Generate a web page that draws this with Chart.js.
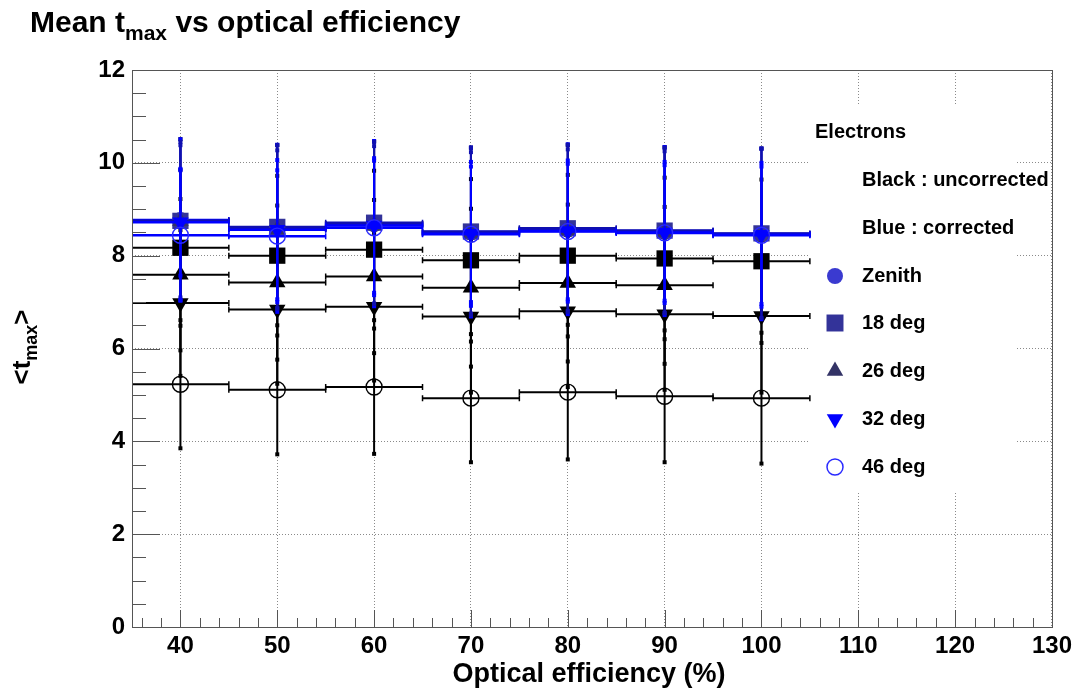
<!DOCTYPE html>
<html>
<head>
<meta charset="utf-8">
<script src="https://cdn.jsdelivr.net/npm/chart.js@4/dist/chart.umd.min.js"></script>
<style>
  html, body { margin: 0; padding: 0; background: #fff; }
  #wrap { position: relative; width: 1077px; height: 692px; }
</style>
</head>
<body>
<div id="wrap"><canvas id="c" width="1077" height="692"></canvas></div>
<script>
// ---------------- data ----------------
const efficiency = [40, 50, 60, 70, 80, 90, 100];
const binHalfWidth = 5;
const xTickLabels = [40, 50, 60, 70, 80, 90, 100, 110, 120, 130];
const yTickLabels = [0, 2, 4, 6, 8, 10, 12];

// Black : uncorrected
const zenithUncorr    = [8.76, 8.58, 8.68, 8.50, 8.56, 8.52, 8.46];
const zenithUncorrErr = [1.75, 1.80, 1.78, 1.83, 1.82, 1.82, 1.85];
const deg18Uncorr     = [8.17, 8.00, 8.13, 7.90, 8.00, 7.94, 7.88];
const deg18UncorrErr  = [1.68, 1.72, 1.70, 1.75, 1.74, 1.74, 1.76];
const deg26Uncorr     = [7.59, 7.42, 7.55, 7.31, 7.41, 7.36, null];
const deg26UncorrErr  = [1.63, 1.66, 1.65, 1.70, 1.69, 1.69, null];
const deg32Uncorr     = [6.98, 6.84, 6.90, 6.69, 6.80, 6.74, 6.70];
const deg32UncorrErr  = [1.57, 1.60, 1.59, 1.64, 1.63, 1.63, 1.65];
const deg46Uncorr     = [5.23, 5.11, 5.17, 4.93, 5.06, 4.97, 4.93];
const deg46UncorrErr  = [1.38, 1.39, 1.44, 1.38, 1.45, 1.42, 1.41];

// Blue : corrected
const zenithCorr    = [8.77, 8.59, 8.69, 8.51, 8.57, 8.53, 8.47];
const zenithCorrErr = [1.74, 1.80, 1.78, 1.82, 1.83, 1.81, 1.84];
const deg18Corr     = [8.75, 8.62, 8.71, 8.52, 8.59, 8.54, 8.48];
const deg18CorrErr  = [1.70, 1.76, 1.74, 1.80, 1.80, 1.78, 1.82];
const deg26Corr     = [8.74, 8.57, 8.66, 8.49, 8.55, 8.51, null];
const deg26CorrErr  = [1.64, 1.70, 1.70, 1.74, 1.74, 1.74, null];
const deg32Corr     = [8.72, 8.56, 8.65, 8.47, 8.53, 8.50, 8.45];
const deg32CorrErr  = [1.15, 1.50, 1.45, 1.55, 1.52, 1.52, 1.55];
const deg46Corr     = [8.44, 8.42, 8.60, 8.46, 8.52, 8.49, 8.44];
const deg46CorrErr  = [1.40, 1.42, 1.45, 1.46, 1.46, 1.46, 1.48];

const legendHeader = 'Electrons';
const legendNotes = ['Black : uncorrected', 'Blue : corrected'];
const seriesLabels = ['Zenith', '18 deg', '26 deg', '32 deg', '46 deg'];

// ---------------- styles ----------------
const FONT = "'Liberation Sans', Arial, Helvetica, sans-serif";
const markerStyles = [
  { pointStyle: 'circle',   rotation: 0,   radius: 8,    open: false },
  { pointStyle: 'rect',     rotation: 0,   radius: 11.5, open: false },
  { pointStyle: 'triangle', rotation: 0,   radius: 9.5,  open: false },
  { pointStyle: 'triangle', rotation: 180, radius: 9.5,  open: false },
  { pointStyle: 'circle',   rotation: 0,   radius: 8,    open: true }
];
const blueColors = ['#3a3ad0', '#333399', '#333366', '#0000ff', '#2a2aff'];

function toPoints(vals, errs) {
  const pts = [];
  efficiency.forEach((x, i) => { if (vals[i] != null) pts.push({ x: x, y: vals[i], err: errs[i] }); });
  return pts;
}

const uncorr = [[zenithUncorr, zenithUncorrErr], [deg18Uncorr, deg18UncorrErr], [deg26Uncorr, deg26UncorrErr],
                [deg32Uncorr, deg32UncorrErr], [deg46Uncorr, deg46UncorrErr]];
const corr = [[zenithCorr, zenithCorrErr], [deg18Corr, deg18CorrErr], [deg26Corr, deg26CorrErr],
              [deg32Corr, deg32CorrErr], [deg46Corr, deg46CorrErr]];

const datasets = [];
let ord = 20;
uncorr.forEach((s, i) => {
  const m = markerStyles[i];
  datasets.push({
    label: seriesLabels[i] + ' (uncorrected)',
    data: toPoints(s[0], s[1]),
    pointStyle: m.pointStyle, pointRotation: m.rotation, pointRadius: m.radius,
    backgroundColor: m.open ? 'rgba(0,0,0,0)' : '#000', borderColor: '#000',
    pointBorderWidth: m.open ? 1.4 : 0, errColor: '#000', errWidth: 2, order: ord--
  });
});
corr.forEach((s, i) => {
  const m = markerStyles[i];
  datasets.push({
    label: seriesLabels[i] + ' (corrected)',
    data: toPoints(s[0], s[1]),
    pointStyle: m.pointStyle, pointRotation: m.rotation, pointRadius: m.radius,
    backgroundColor: m.open ? 'rgba(0,0,0,0)' : blueColors[i], borderColor: blueColors[i],
    pointBorderWidth: m.open ? 1.4 : 0, errColor: i === 1 || i === 2 ? '#1010b0' : '#0000ff',
    errWidth: 2.5, order: ord--
  });
});

// ---------------- helpers ----------------
function drawSubText(ctx, parts, x, y, size) {
  let cx = x;
  parts.forEach(p => {
    const fs = p.sub ? Math.round(size * 0.7) : size;
    ctx.font = 'bold ' + fs + 'px ' + FONT;
    ctx.fillText(p.t, cx, y + (p.sub ? size * 0.28 : 0));
    cx += ctx.measureText(p.t).width;
  });
  return cx - x;
}
function measureSubText(ctx, parts, size) {
  let w = 0;
  parts.forEach(p => {
    const fs = p.sub ? Math.round(size * 0.7) : size;
    ctx.font = 'bold ' + fs + 'px ' + FONT;
    w += ctx.measureText(p.t).width;
  });
  return w;
}

const rootPlugin = {
  id: 'rootStyle',
  beforeDatasetsDraw(chart) {
    const ctx = chart.ctx;
    ctx.save();
    ctx.fillStyle = '#fff';
    ctx.fillRect(808, 105, 208, 386);
    ctx.restore();
  },
  beforeDatasetDraw(chart, args) {
    const ds = chart.data.datasets[args.index];
    const xs = chart.scales.x, ys = chart.scales.y, a = chart.chartArea;
    const ctx = chart.ctx;
    ctx.save();
    ctx.beginPath(); ctx.rect(a.left, a.top, a.right - a.left, a.bottom - a.top); ctx.clip();
    ctx.strokeStyle = ds.errColor; ctx.fillStyle = ds.errColor;
    ds.data.forEach(p => {
      const px = xs.getPixelForValue(p.x), py = ys.getPixelForValue(p.y);
      const xl = xs.getPixelForValue(p.x - binHalfWidth), xr = xs.getPixelForValue(p.x + binHalfWidth);
      const yt = ys.getPixelForValue(p.y + p.err), yb = ys.getPixelForValue(p.y - p.err);
      ctx.lineWidth = ds.errWidth;
      ctx.beginPath();
      ctx.moveTo(xl, py); ctx.lineTo(xr, py);
      ctx.stroke();
      ctx.lineWidth = 2;
      ctx.beginPath();
      ctx.moveTo(px, yt); ctx.lineTo(px, yb);
      ctx.stroke();
      ctx.lineWidth = 1.5;
      ctx.beginPath();
      ctx.moveTo(xl, py - 3); ctx.lineTo(xl, py + 3);
      ctx.moveTo(xr, py - 3); ctx.lineTo(xr, py + 3);
      ctx.stroke();
      ctx.fillRect(px - 2, yt - 2, 4, 4);
      ctx.fillRect(px - 2, yb - 2, 4, 4);
    });
    ctx.restore();
  },
  afterDraw(chart) {
    const ctx = chart.ctx, a = chart.chartArea;
    const xs = chart.scales.x, ys = chart.scales.y;
    ctx.save();
    // frame
    ctx.strokeStyle = '#555'; ctx.lineWidth = 1;
    ctx.strokeRect(Math.round(a.left) + 0.5, Math.round(a.top) + 0.5,
                   Math.round(a.right - a.left), Math.round(a.bottom - a.top));
    // inside ticks
    ctx.beginPath();
    for (let v = 0; v <= 12.001; v += 0.5) {
      const y = Math.round(ys.getPixelForValue(v)) + 0.5;
      const major = Math.abs(v / 2 - Math.round(v / 2)) < 1e-6;
      ctx.moveTo(a.left, y); ctx.lineTo(a.left + (major ? 28 : 14), y);
    }
    for (let v = 36; v <= 130.001; v += 2) {
      const x = Math.round(xs.getPixelForValue(v)) + 0.5;
      const major = v % 10 === 0;
      ctx.moveTo(x, a.bottom); ctx.lineTo(x, a.bottom - (major ? 17 : 9));
    }
    ctx.stroke();

    ctx.fillStyle = '#000';
    ctx.textBaseline = 'alphabetic';
    ctx.textAlign = 'left';
    // title
    drawSubText(ctx, [{ t: 'Mean t' }, { t: 'max', sub: true }, { t: ' vs optical efficiency' }], 30, 32, 30);

    // x-axis title
    ctx.font = 'bold 27px ' + FONT;
    ctx.textAlign = 'center';
    ctx.fillText('Optical efficiency (%)', 589, 682);
    ctx.textAlign = 'left';

    // y-axis title
    const yParts = [{ t: '<t' }, { t: 'max', sub: true }, { t: '>' }];
    const yw = measureSubText(ctx, yParts, 26);
    ctx.save();
    ctx.translate(30, 347);
    ctx.rotate(-Math.PI / 2);
    drawSubText(ctx, yParts, -yw / 2, 0, 26);
    ctx.restore();

    // legend
    ctx.font = 'bold 20px ' + FONT;
    ctx.textBaseline = 'middle';
    ctx.fillText(legendHeader, 815, 132);
    ctx.fillText(legendNotes[0], 862, 180);
    ctx.fillText(legendNotes[1], 862, 228);
    const rowY = [276, 323, 371, 419, 467];
    const legRadius = [8, 12, 9.5, 9.5, 8];
    seriesLabels.forEach((lab, i) => {
      ctx.fillStyle = '#000';
      ctx.font = 'bold 20px ' + FONT;
      ctx.fillText(lab, 862, rowY[i]);
      const m = markerStyles[i];
      ctx.fillStyle = m.open ? 'rgba(0,0,0,0)' : blueColors[i];
      ctx.strokeStyle = blueColors[i];
      ctx.lineWidth = 1.5;
      Chart.helpers.drawPoint(ctx, {
        pointStyle: m.pointStyle, rotation: m.rotation, radius: legRadius[i],
        borderWidth: m.open ? 1.5 : 0
      }, 835, rowY[i]);
    });
    ctx.restore();
  }
};

const chart = new Chart(document.getElementById('c'), {
  type: 'scatter',
  data: { datasets: datasets },
  plugins: [rootPlugin],
  options: {
    responsive: false,
    animation: false,
    devicePixelRatio: 1,
    layout: { autoPadding: false, padding: { left: 0, top: 70, right: 23, bottom: 0 } },
    plugins: { legend: { display: false }, tooltip: { enabled: false }, title: { display: false } },
    elements: { point: { hoverRadius: 0 } },
    scales: {
      x: {
        type: 'linear', min: 35, max: 130,
        afterBuildTicks: s => { s.ticks = xTickLabels.map(v => ({ value: v })); },
        afterFit: s => { s.height = 65; },
        ticks: { color: '#000', font: { family: FONT, size: 24, weight: 'bold' }, padding: 5, maxRotation: 0, autoSkip: false },
        grid: { color: '#8a8a8a', lineWidth: 1, drawTicks: false },
        border: { display: false, dash: [1, 2] }
      },
      y: {
        type: 'linear', min: 0, max: 12,
        afterBuildTicks: s => { s.ticks = yTickLabels.map(v => ({ value: v })); },
        afterFit: s => { s.width = 132; },
        ticks: { color: '#000', font: { family: FONT, size: 24, weight: 'bold' }, padding: 7 },
        grid: { color: '#8a8a8a', lineWidth: 1, drawTicks: false },
        border: { display: false, dash: [1, 2] }
      }
    }
  }
});
</script>
</body>
</html>
